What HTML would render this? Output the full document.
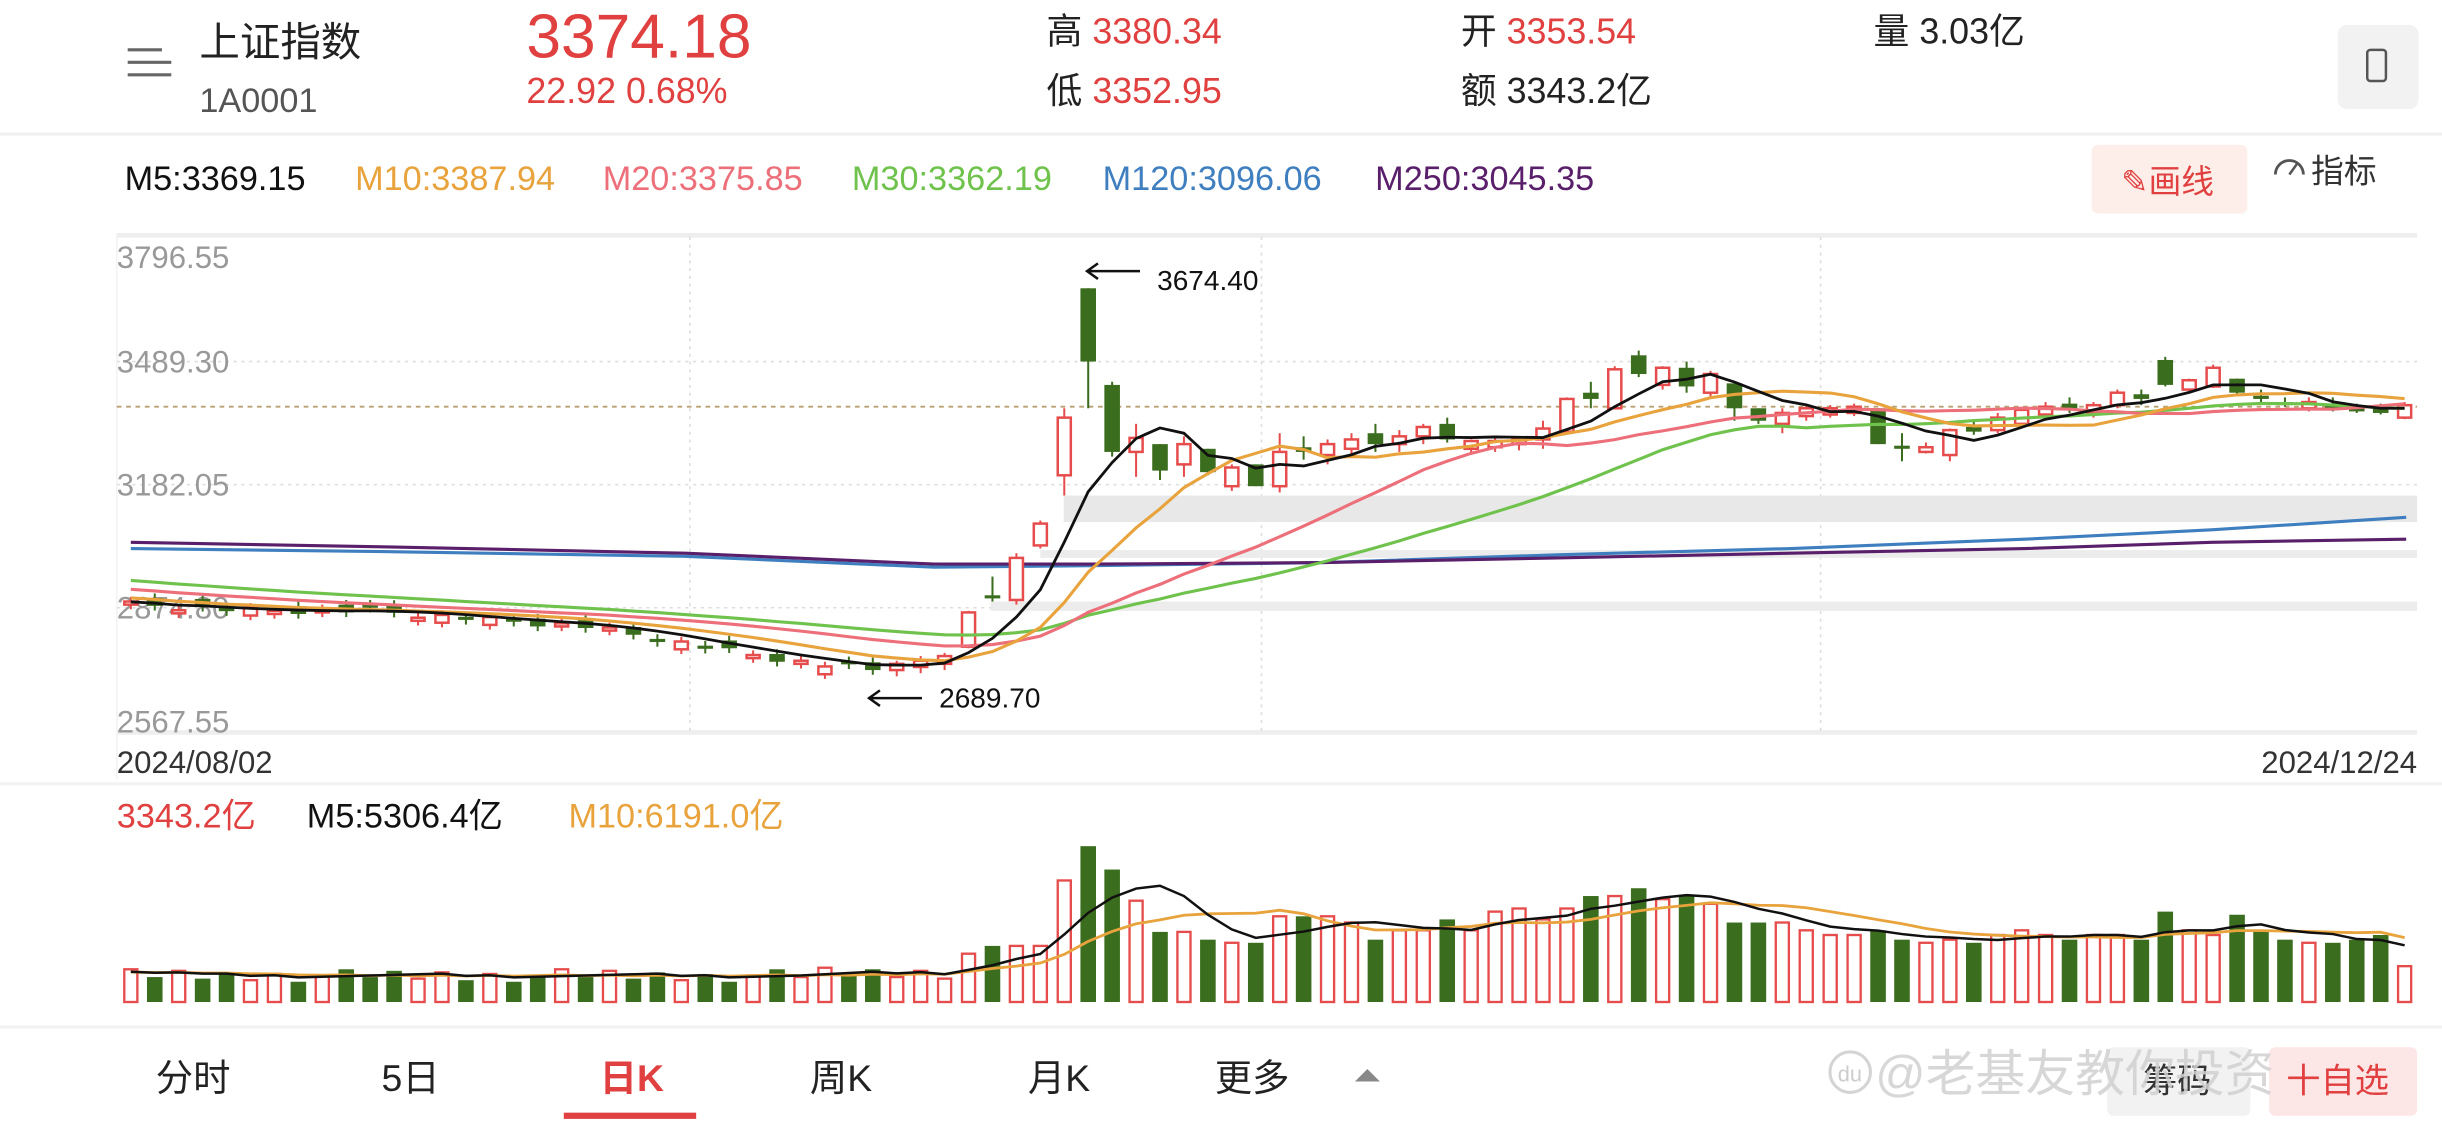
<!DOCTYPE html>
<html><head><meta charset="utf-8"><style>
html,body{margin:0;padding:0;background:#fff;width:2442px;height:1122px;overflow:hidden}
svg{display:block}
text{font-family:"Liberation Sans","Noto Sans CJK SC",sans-serif}
</style></head><body>
<svg id="s" width="2442" height="1122" viewBox="0 0 1568 720" preserveAspectRatio="none" xmlns="http://www.w3.org/2000/svg">
<rect width="1568" height="720" fill="#fff"/>
<g stroke="#666" stroke-width="2"><line x1="82" y1="32" x2="104" y2="32"/><line x1="82" y1="40" x2="110" y2="40"/><line x1="82" y1="48" x2="110" y2="48"/></g>
<text x="128" y="36" font-size="26" fill="#222">上证指数</text>
<text x="128" y="72" font-size="22" fill="#555">1A0001</text>
<text x="338" y="37" font-size="40" fill="#e0403f">3374.18</text>
<text x="338" y="66" font-size="23" fill="#e0403f">22.92  0.68%</text>
<text x="672" y="28" font-size="23" fill="#222">高 <tspan fill="#e0403f">3380.34</tspan></text>
<text x="672" y="66" font-size="23" fill="#222">低 <tspan fill="#e0403f">3352.95</tspan></text>
<text x="938" y="28" font-size="23" fill="#222">开 <tspan fill="#e0403f">3353.54</tspan></text>
<text x="938" y="66" font-size="23" fill="#222">额 3343.2亿</text>
<text x="1203" y="28" font-size="23" fill="#222">量 3.03亿</text>
<rect x="1501" y="16" width="52" height="54" rx="6" fill="#f2f2f2"/>
<rect x="1520" y="32" width="12" height="20" rx="2" fill="none" stroke="#555" stroke-width="1.6"/>
<line x1="0" y1="86" x2="1568" y2="86" stroke="#f0f0f0" stroke-width="2"/>
<g font-size="22">
<text x="80" y="122" fill="#111">M5:3369.15</text>
<text x="228" y="122" fill="#e8a33d">M10:3387.94</text>
<text x="387" y="122" fill="#ec6f7a">M20:3375.85</text>
<text x="547" y="122" fill="#6fc24c">M30:3362.19</text>
<text x="708" y="122" fill="#3f7fbf">M120:3096.06</text>
<text x="883" y="122" fill="#5a1f6a">M250:3045.35</text>
</g>
<rect x="1343" y="93" width="100" height="44" rx="4" fill="#fdeee9"/>
<text x="1362" y="124" font-size="21" fill="#e0403f">✎画线</text>
<path d="M1461 112a9 9 0 0 1 18 0" fill="none" stroke="#555" stroke-width="1.8"/>
<line x1="1470" y1="112" x2="1475" y2="105" stroke="#555" stroke-width="1.6"/>
<text x="1484" y="117" font-size="21" fill="#333">指标</text>
<line x1="75" y1="151" x2="1552" y2="151" stroke="#eee" stroke-width="3"/>
<line x1="75" y1="470" x2="1552" y2="470" stroke="#eee" stroke-width="3"/>
<line x1="75" y1="151" x2="75" y2="500" stroke="#f3f3f3" stroke-width="1"/>
<g stroke="#ddd" stroke-dasharray="2,3" stroke-width="1">
<line x1="75" y1="232" x2="1552" y2="232"/><line x1="75" y1="311" x2="1552" y2="311"/><line x1="75" y1="390" x2="1552" y2="390"/>
<line x1="443" y1="152" x2="443" y2="469"/><line x1="810" y1="152" x2="810" y2="469"/><line x1="1169" y1="152" x2="1169" y2="469"/>
</g>
<rect x="683" y="318" width="869" height="17" fill="#e8e8e8"/>
<rect x="668" y="353" width="884" height="5" fill="#ececec"/>
<rect x="636" y="386" width="916" height="6" fill="#ececec"/>
<line x1="75" y1="261" x2="1552" y2="261" stroke="#b8a070" stroke-dasharray="3,3" stroke-width="1.2"/>
<g font-size="20" fill="#999">
<text x="75" y="172">3796.55</text><text x="75" y="239">3489.30</text><text x="75" y="318">3182.05</text><text x="75" y="397">2874.80</text><text x="75" y="470">2567.55</text>
</g>
<g id="pc"></g>
<text x="743" y="186" font-size="18" fill="#111">3674.40</text>
<text x="603" y="454" font-size="18" fill="#111">2689.70</text>
<g stroke="#111" stroke-width="1.6" fill="none">
<path d="M732 174H698M705 169l-7 5 7 5"/><path d="M592 448H558M565 443l-7 5 7 5"/>
</g>
<g font-size="20" fill="#333">
<text x="75" y="496">2024/08/02</text><text x="1552" y="496" text-anchor="end">2024/12/24</text>
</g>
<line x1="0" y1="503" x2="1568" y2="503" stroke="#f2f2f2" stroke-width="2"/>
<g font-size="22">
<text x="75" y="531" fill="#e0403f">3343.2亿</text>
<text x="197" y="531" fill="#111">M5:5306.4亿</text>
<text x="365" y="531" fill="#e8a33d">M10:6191.0亿</text>
</g>
<g id="vc"></g>
<line x1="0" y1="659" x2="1568" y2="659" stroke="#f2f2f2" stroke-width="2"/>
<g font-size="24" fill="#222">
<text x="100" y="700">分时</text><text x="245" y="700">5日</text>
<text x="385" y="700" fill="#e0403f" font-weight="bold">日K</text>
<text x="520" y="700">周K</text><text x="660" y="700">月K</text><text x="780" y="700">更多</text>
</g>
<path d="M870 694l8-8 8 8z" fill="#888"/>
<rect x="362" y="714" width="85" height="4" fill="#e0403f"/>
<rect x="1353" y="672" width="92" height="44" rx="4" fill="#f2f2f2"/>
<text x="1376" y="701" font-size="22" fill="#333">筹码</text>
<rect x="1457" y="672" width="95" height="44" rx="4" fill="#fde6e6"/>
<text x="1468" y="701" font-size="22" fill="#e0403f">十自选</text>
<circle cx="1188" cy="688" r="13" fill="none" stroke="#d4d4d4" stroke-width="2"/>
<text x="1180" y="694" font-size="14" fill="#ccc">du</text>
<text x="1204" y="700" font-size="32" fill="#d0d0d0" fill-opacity="0.85">@老基友教你投资</text>
</svg>
<script>
const NS="http://www.w3.org/2000/svg";
function el(t,a,p){const e=document.createElementNS(NS,t);for(const k in a)e.setAttribute(k,a[k]);p.appendChild(e);return e;}
const R="#e64c4c",G="#3b6d1e";
const kp=[[0,388],[5,392],[10,392],[15,398],[19,402],[22,410],[25,418],[28,425],[31,430]];
function interp(i){for(let k=0;k<kp.length-1;k++){if(i>=kp[k][0]&&i<=kp[k+1][0]){const t=(i-kp[k][0])/(kp[k+1][0]-kp[k][0]);return kp[k][1]+t*(kp[k+1][1]-kp[k][1]);}}return 430;}
const C=[];
const pat=[1,0,1,0,0,1,1,0,1,0,0,0,1,1,0,1,0,0,1,0,1,0,0,1,0,0,1,0,1,1,0,0];
for(let i=0;i<32;i++){const c=interp(i)+((i*7)%5-2);const up=pat[i];const b=2+(i*3)%6;const o=up?c+b:c-b;C.push([o,c,Math.min(o,c)-3,Math.max(o,c)+3]);}
C.push([430,426,424,434],[428,424,421,432],[426,421,419,430]);
const L=[[415,393,392,416],[382,384,370,386],[385,358,355,388],[350,336,334,352],[305,268,262,318],[185,232,185,262],[247,290,245,293],[290,281,272,306],[285,302,285,308],[298,285,280,306],[288,303,288,305],[312,300,298,315],[298,312,298,312],[312,290,278,316],[287,290,280,295],[292,285,282,298],[288,282,278,292],[278,285,272,290],[285,280,276,290],[280,274,272,285],[272,282,268,284],[288,283,282,292],[287,283,281,290],[285,281,280,289],[282,275,270,288],[277,256,255,278],[252,256,245,262],[262,237,235,262],[228,240,225,242],[247,236,235,250],[236,248,232,252],[252,240,238,255],[246,262,246,270],[262,270,262,272],[272,265,262,278],[267,262,260,270],[266,262,260,268],[265,261,259,267],[262,285,262,285],[286,288,278,296],[290,287,284,291],[292,276,275,296],[274,277,270,279],[276,268,265,278],[272,263,262,275],[266,261,258,268],[259,263,255,265],[265,260,258,268],[260,252,250,262],[253,256,250,260],[231,247,229,248],[250,244,243,252],[248,236,234,249],[243,252,243,253],[254,256,250,258],[258,260,255,261],[262,258,255,264],[259,263,255,264],[262,264,259,265],[262,265,259,266],[268,260,258,269]];
L.forEach(x=>C.push(x));
const N=C.length,X0=84,DX=(1544-84)/(N-1),W=10;
const pc=document.getElementById("pc");
const hist=[];for(let k=0;k<30;k++)hist.push(355+k*33/29);
const all=hist.concat(C.map(c=>c[1]));
function ma(n){const pts=[];for(let i=0;i<N;i++){let s=0;for(let j=0;j<n;j++)s+=all[30+i-j];pts.push((X0+i*DX).toFixed(1)+","+(s/n).toFixed(1));}return pts.join(" ");}
el("polyline",{points:"84,352 250,354 440,357 600,364 700,363 850,361 1000,356 1150,352 1300,346 1420,340 1545,332",fill:"none",stroke:"#3f7fbf","stroke-width":2},pc);
el("polyline",{points:"84,348 250,351 440,355 600,362 700,362 850,361 1000,358 1150,355 1300,352 1420,348 1545,346",fill:"none",stroke:"#5a1f6a","stroke-width":2},pc);
C.forEach((c,i)=>{const x=X0+i*DX,up=c[1]<c[0],col=up?R:G,t=Math.min(c[0],c[1]),b=Math.max(c[0],c[1]);
el("line",{x1:x,x2:x,y1:c[2],y2:c[3],stroke:col,"stroke-width":1.3},pc);
const h=Math.max(b-t,1.5);
if(up)el("rect",{x:x-W/2+0.8,y:t,width:W-1.6,height:h,fill:"#fff",stroke:col,"stroke-width":1.6},pc);
else el("rect",{x:x-W/2,y:t,width:W,height:h,fill:col},pc);});
[[30,"#6fc24c"],[20,"#ec6f7a"],[10,"#e8a33d"],[5,"#111"]].forEach(([n,col])=>el("polyline",{points:ma(n),fill:"none",stroke:col,"stroke-width":n==5?1.8:2},pc));
const vc=document.getElementById("vc");
const VT=[612,607,607,607,565,543,558,578,598,598,603,605,605,588,588,588,592,603,597,597,590,597,585,583,590,583,575,575,570,577,575,580,592,592,592,597,600,600,597,603,605,603,605,600,597,600,603,600,600,603,585,597,600,587,597,603,605,605,603,600,620];
const V=[];for(let i=0;i<35;i++)V.push(622+((i*5)%9)-(i>28?2:0));VT.forEach(v=>V.push(v));
const BASE=643;
V.forEach((v,i)=>{const x=X0+i*DX,up=C[i][1]<C[i][0];
if(up)el("rect",{x:x-W/2+0.8,y:v,width:W-1.6,height:BASE-v,fill:"#fff",stroke:R,"stroke-width":1.5},vc);
else el("rect",{x:x-W/2,y:v,width:W,height:BASE-v,fill:G},vc);});
const vh=[];for(let k=0;k<10;k++)vh.push(624);const va=vh.concat(V);
function vma(n){const p=[];for(let i=0;i<N;i++){let s=0;for(let j=0;j<n;j++)s+=va[10+i-j];p.push((X0+i*DX).toFixed(1)+","+(s/n).toFixed(1));}return p.join(" ");}
el("polyline",{points:vma(10),fill:"none",stroke:"#e8a33d","stroke-width":1.8},vc);
el("polyline",{points:vma(5),fill:"none",stroke:"#111","stroke-width":1.6},vc);
</script>
</body></html>
